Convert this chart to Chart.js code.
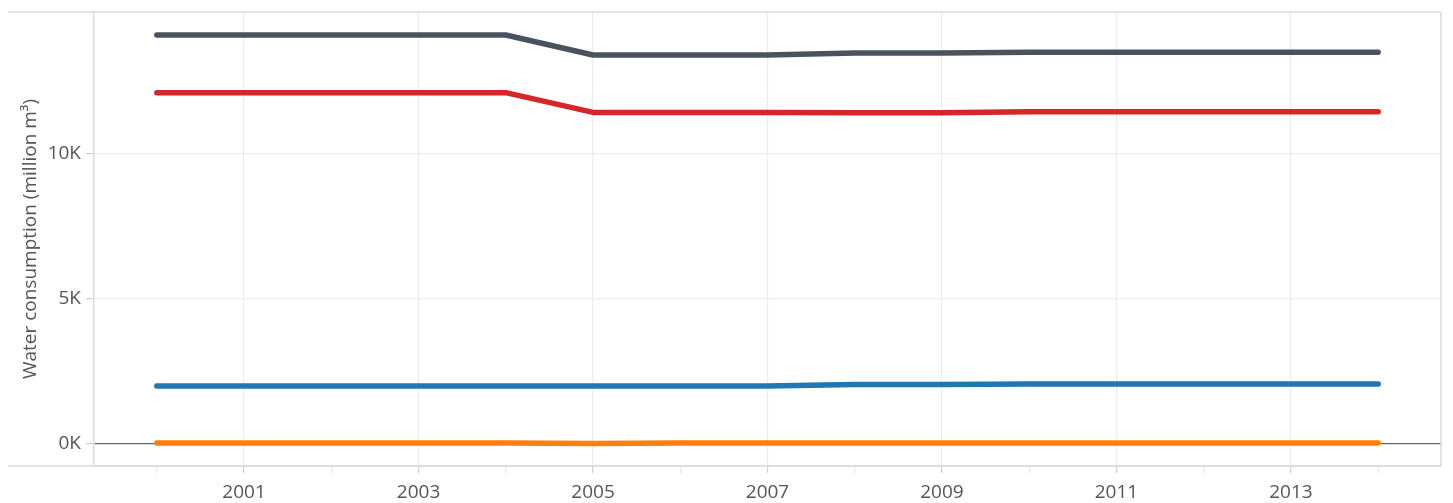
<!DOCTYPE html>
<html>
<head>
<meta charset="utf-8">
<script src="https://cdn.jsdelivr.net/npm/chart.js@4"></script>
<style>
  html, body { margin: 0; padding: 0; background: #fff; }
  #wrap { width: 1453px; height: 503px; }
</style>
</head>
<body>
<div id="wrap"><canvas id="myChart"></canvas></div>
<script>
const years = [2000, 2001, 2002, 2003, 2004, 2005, 2006, 2007, 2008, 2009, 2010, 2011, 2012, 2013, 2014];
const greyVals   = [14080, 14080, 14080, 14080, 14080, 13390, 13390, 13390, 13460, 13460, 13485, 13485, 13485, 13485, 13485];
const redVals    = [12090, 12090, 12090, 12090, 12090, 11410, 11410, 11410, 11400, 11400, 11430, 11430, 11430, 11430, 11430];
const blueVals   = [1975, 1975, 1975, 1975, 1975, 1975, 1975, 1975, 2030, 2030, 2045, 2045, 2045, 2045, 2045];
const orangeVals = [10, 10, 10, 10, 10, -5, 10, 10, 10, 10, 10, 10, 10, 10, 10];
const yTicks = [0, 5000, 10000];

const pts = vals => years.map((y, i) => ({ x: y, y: vals[i] }));
const line = (vals, color) => ({
	data: pts(vals),
	borderColor: color,
	backgroundColor: color,
	borderWidth: 5.5,
	borderCapStyle: 'round',
	borderJoinStyle: 'round',
	pointRadius: 0,
	tension: 0
});

// frame lines that plotly draws past the y axis
const frame = {
	id: 'frame',
	afterDraw(chart) {
		const { ctx, chartArea: a } = chart;
		ctx.save();
		ctx.strokeStyle = '#dcdcdc';
		ctx.lineWidth = 1.5;
		ctx.beginPath();
		ctx.moveTo(8, a.top); ctx.lineTo(a.right, a.top);
		ctx.moveTo(8, a.bottom); ctx.lineTo(a.right, a.bottom);
		ctx.moveTo(a.right, a.top); ctx.lineTo(a.right, a.bottom);
		ctx.stroke();
		ctx.restore();
	}
};

const ctx = document.getElementById('myChart');

new Chart(ctx, {
	type: 'line',
	data: {
		datasets: [
			line(greyVals, '#4a5260'),
			line(redVals, '#d62728'),
			line(blueVals, '#1f77b4'),
			line(orangeVals, '#ff7f0e')
		]
	},
	options: {
		responsive: true,
		maintainAspectRatio: false,
		animation: false,
		layout: { padding: { left: 0, top: 12, right: 12, bottom: 0 } },
		plugins: {
			legend: { display: false },
			tooltip: { enabled: false }
		},
		scales: {
			x: {
				type: 'linear',
				min: 1999.28,
				max: 2014.72,
				afterBuildTicks: s => { s.ticks = years.map(v => ({ value: v })); },
				afterFit: s => { s.height = 37; s.paddingLeft = 0; s.paddingRight = 0; },
				border: { color: '#dcdcdc', width: 1.5 },
				grid: {
					color: c => (c.tick && c.tick.value % 2 === 1) ? '#ececec' : 'rgba(0,0,0,0)',
					tickColor: c => (c.tick && c.tick.value % 2 === 1) ? '#cfcfcf' : '#e6e6e6',
					tickLength: 7,
					lineWidth: 1.2
				},
				ticks: {
					autoSkip: false,
					maxRotation: 0,
					padding: 8,
					color: '#555',
					font: { family: 'Open Sans', size: 19 },
					callback: v => (v % 2 === 1 ? String(v) : '')
				}
			},
			y: {
				min: -783,
				max: 14872,
				afterBuildTicks: s => { s.ticks = yTicks.map(v => ({ value: v })); },
				afterFit: s => { s.width = 94; s.paddingTop = 0; s.paddingBottom = 0; },
				border: { color: '#dcdcdc', width: 1.5 },
				grid: {
					color: c => (c.tick && c.tick.value === 0) ? '#666' : '#ececec',
					tickColor: '#cfcfcf',
					tickLength: 8,
					lineWidth: 1.2
				},
				ticks: {
					padding: 5,
					color: '#555',
					font: { family: 'Open Sans', size: 19 },
					callback: v => (v / 1000) + 'K'
				},
				title: {
					display: true,
					text: 'Water consumption (million m³)',
					color: '#555',
					font: { family: 'Open Sans', size: 19 },
					padding: { top: 19, bottom: 4 }
				}
			}
		}
	},
	plugins: [frame]
});
</script>
</body>
</html>
